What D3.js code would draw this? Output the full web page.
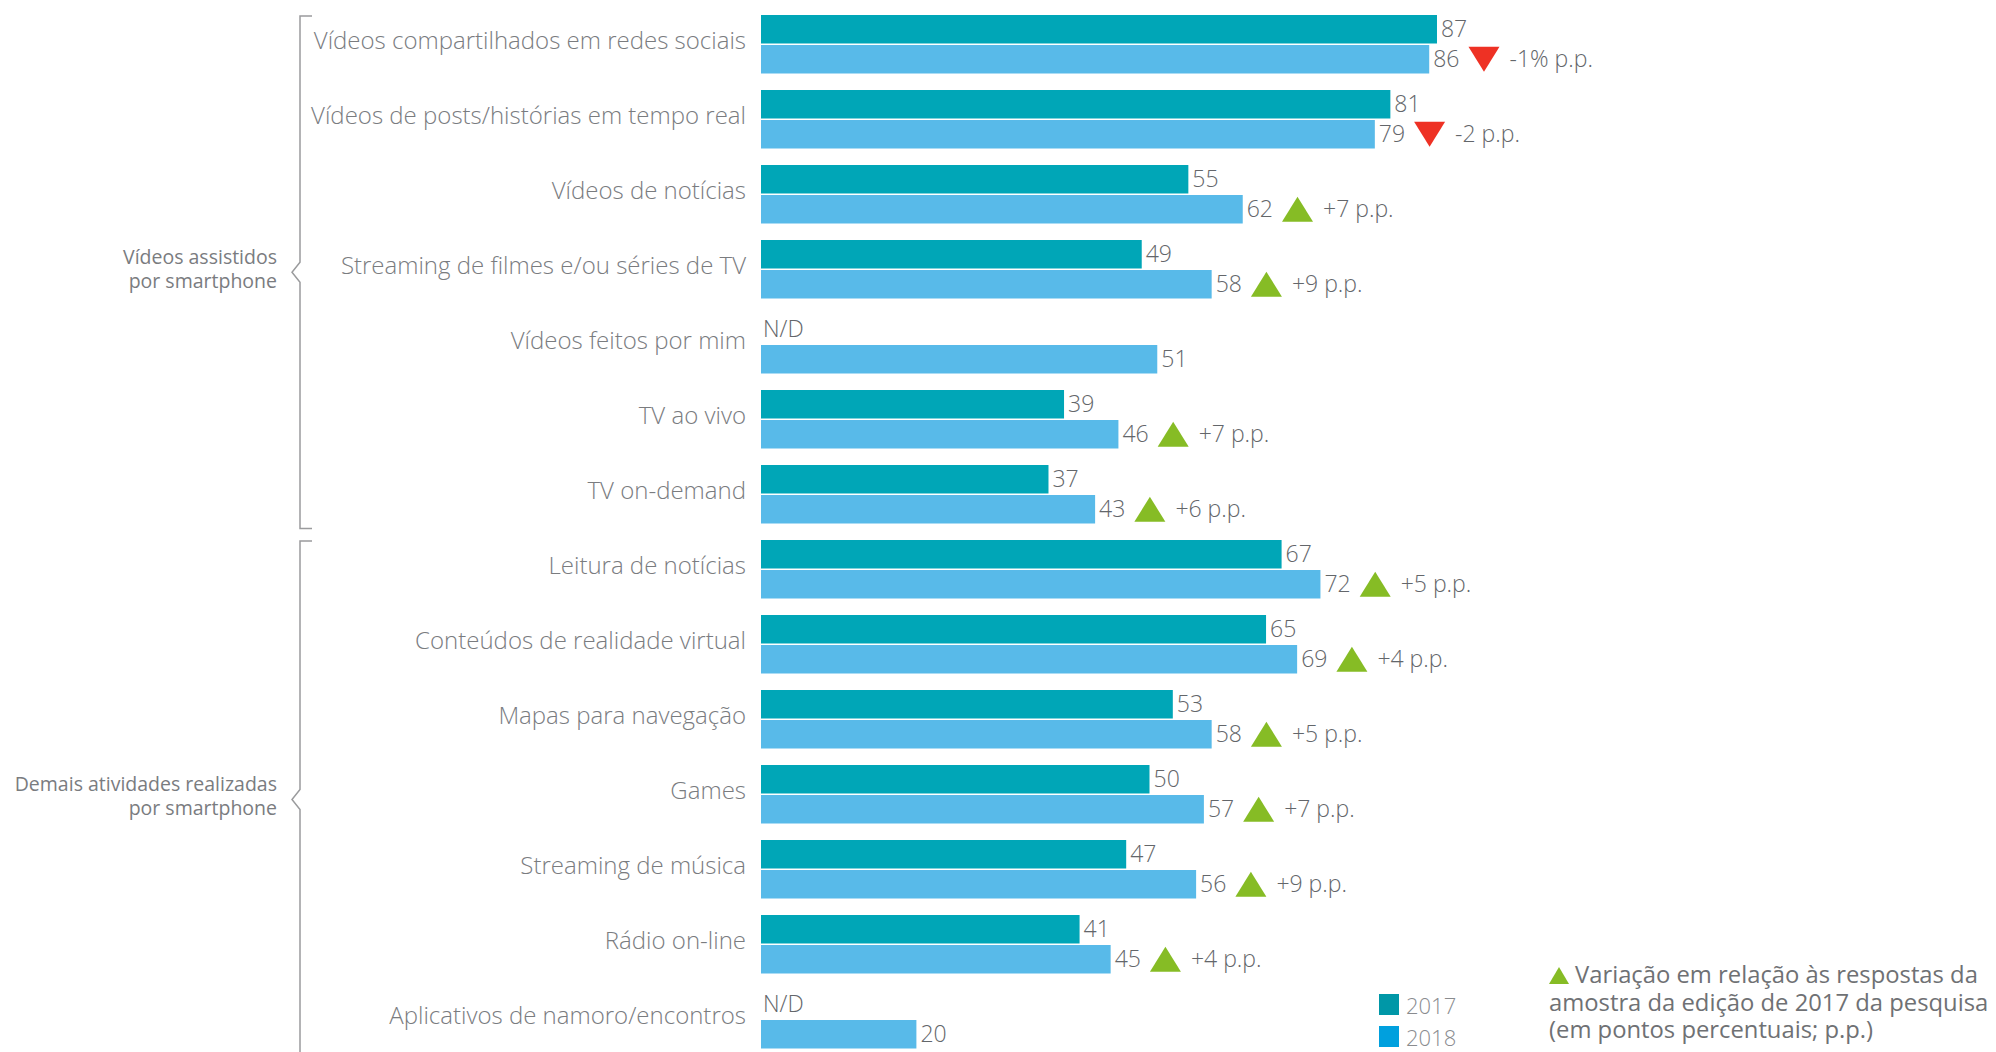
<!DOCTYPE html>
<html>
<head>
<meta charset="utf-8">
<script src="https://cdn.jsdelivr.net/npm/d3@7"></script>
<style>
  html, body { margin: 0; padding: 0; background: #ffffff; }
  svg { display: block; }
  text { font-family: "Open Sans", "Noto Sans", sans-serif; }
</style>
</head>
<body>
<svg id="chart" width="1996" height="1052"></svg>
<script>
// Atividades realizadas por smartphone, 2017 x 2018 (%)
const categories = [
  "Vídeos compartilhados em redes sociais",
  "Vídeos de posts/histórias em tempo real",
  "Vídeos de notícias",
  "Streaming de filmes e/ou séries de TV",
  "Vídeos feitos por mim",
  "TV ao vivo",
  "TV on-demand",
  "Leitura de notícias",
  "Conteúdos de realidade virtual",
  "Mapas para navegação",
  "Games",
  "Streaming de música",
  "Rádio on-line",
  "Aplicativos de namoro/encontros"
];
const values2017 = [87, 81, 55, 49, null, 39, 37, 67, 65, 53, 50, 47, 41, null];
const values2018 = [86, 79, 62, 58, 51, 46, 43, 72, 69, 58, 57, 56, 45, 20];
const changeLabels = ["-1% p.p.", "-2 p.p.", "+7 p.p.", "+9 p.p.", null, "+7 p.p.", "+6 p.p.",
                      "+5 p.p.", "+4 p.p.", "+5 p.p.", "+7 p.p.", "+9 p.p.", "+4 p.p.", null];
const groups = [
  { lines: ["Vídeos assistidos", "por smartphone"], first: 0, last: 6 },
  { lines: ["Demais atividades realizadas", "por smartphone"], first: 7, last: 13 }
];
const seriesNames = ["2017", "2018"];
const noteLines = ["Variação em relação às respostas da", "amostra da edição de 2017 da pesquisa", "(em pontos percentuais; p.p.)"];

const barColors = { "2017": "#00A6B7", "2018": "#58BAE9" };
const legendColors = { "2017": "#0097A7", "2018": "#00A0DE" };
const upColor = "#86BC25", downColor = "#EE3124";
const labelGray = "#7a7c7f", valueGray = "#63666a";

const svg = d3.select("#chart");

const x = d3.scaleLinear().domain([0, 100]).range([761, 1538]);
const y = d3.scaleBand().domain(d3.range(categories.length))
  .range([15, 1048.5]).paddingInner(0.22).paddingOuter(0);
const ySub = d3.scaleBand().domain(seriesNames).range([0, y.bandwidth()]).paddingInner(0.05);

const rows = categories.map((c, i) => ({
  i, name: c, v2017: values2017[i], v2018: values2018[i], change: changeLabels[i]
}));

// category labels
svg.append("g").selectAll("text").data(rows).join("text")
  .attr("x", 746)
  .attr("y", d => y(d.i) + 34)
  .attr("text-anchor", "end")
  .attr("font-size", 24)
  .attr("font-weight", 300)
  .attr("fill", labelGray)
  .text(d => d.name);

// bars
const rowG = svg.append("g").selectAll("g").data(rows).join("g")
  .attr("transform", d => `translate(0,${y(d.i)})`);

seriesNames.forEach(s => {
  const key = "v" + s;
  rowG.filter(d => d[key] != null).append("rect")
    .attr("x", x(0))
    .attr("y", ySub(s))
    .attr("width", d => x(d[key]) - x(0))
    .attr("height", ySub.bandwidth())
    .attr("fill", barColors[s]);

  rowG.append("text")
    .attr("class", "val" + s)
    .attr("x", d => d[key] != null ? x(d[key]) + 4 : x(0) + 2)
    .attr("y", ySub(s) + ySub.bandwidth() / 2)
    .attr("dy", "0.35em")
    .attr("font-size", 23)
    .attr("font-weight", 300)
    .attr("fill", valueGray)
    .text(d => d[key] != null ? d[key] : "N/D");
});

// change markers next to the 2018 value
const triW = 31, triH = 25;
rowG.filter(d => d.change != null).each(function (d) {
  const g = d3.select(this);
  const lbl = g.select("text.val2018").node();
  const endX = lbl.getComputedTextLength() + (+lbl.getAttribute("x"));
  const up = d.change.startsWith("+");
  const tx = endX + 9;
  const cy = ySub("2018") + ySub.bandwidth() / 2;
  const top = cy - triH / 2, bot = cy + triH / 2;
  const pts = up
    ? [[tx, bot], [tx + triW / 2, top], [tx + triW, bot]]
    : [[tx, top], [tx + triW, top], [tx + triW / 2, bot]];
  g.append("path")
    .attr("d", d3.line()(pts) + "Z")
    .attr("fill", up ? upColor : downColor);
  g.append("text")
    .attr("x", tx + triW + 10)
    .attr("y", cy)
    .attr("dy", "0.35em")
    .attr("font-size", 23)
    .attr("font-weight", 300)
    .attr("fill", valueGray)
    .text(d.change);
});

// group brackets and labels
const bx = 300;
groups.forEach(gr => {
  const top = y(gr.first) + 1;
  const bot = gr.last === categories.length - 1 ? 1058 : y(gr.last) + y.bandwidth() + 5;
  const mid = (top + bot) / 2;
  svg.append("path")
    .attr("d", `M${bx + 12},${top}H${bx}V${mid - 10}L${bx - 8},${mid}L${bx},${mid + 10}V${bot}H${bx + 12}`)
    .attr("fill", "none")
    .attr("stroke", "#9a9b9d")
    .attr("stroke-width", 1.5);
  const t = svg.append("text")
    .attr("x", 277)
    .attr("text-anchor", "end")
    .attr("font-size", 19.5)
    .attr("fill", labelGray);
  gr.lines.forEach((ln, k) => {
    t.append("tspan").attr("x", 277).attr("y", mid - 8.5 + k * 24).text(ln);
  });
});

// legend
const leg = svg.append("g");
seriesNames.forEach((s, k) => {
  leg.append("rect")
    .attr("x", 1379).attr("y", 994 + k * 32)
    .attr("width", 20).attr("height", 21)
    .attr("fill", legendColors[s]);
  leg.append("text")
    .attr("x", 1406).attr("y", 1014 + k * 32)
    .attr("font-size", 22)
    .attr("font-weight", 300)
    .attr("fill", "#8a8c8f")
    .text(s);
});

// note
leg.append("path")
  .attr("d", d3.line()([[1549, 984], [1559, 967], [1569, 984]]) + "Z")
  .attr("fill", upColor);
noteLines.forEach((ln, k) => {
  leg.append("text")
    .attr("x", k === 0 ? 1575 : 1549)
    .attr("y", 983 + k * 27.5)
    .attr("font-size", 23.8)
    .attr("fill", "#6f7174")
    .text(ln);
});
</script>
</body>
</html>
